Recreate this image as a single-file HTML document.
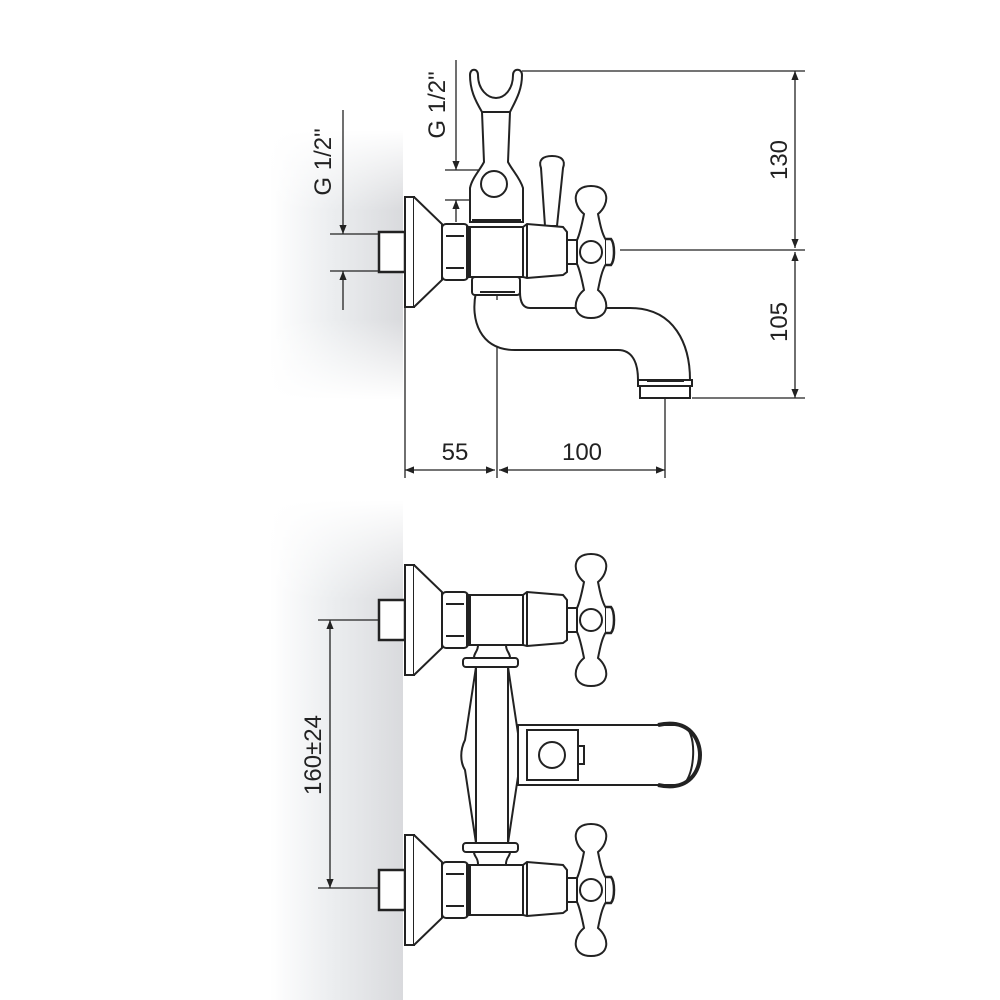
<!DOCTYPE html>
<html><head><meta charset="utf-8"><style>html,body{margin:0;padding:0;background:#fff}svg{display:block}</style></head>
<body>
<svg width="1000" height="1000" viewBox="0 0 1000 1000" xmlns="http://www.w3.org/2000/svg">
<defs>
<linearGradient id="gh" x1="0" x2="1" y1="0" y2="0">
<stop offset="0" stop-color="#fff" stop-opacity="1"/>
<stop offset="0.45" stop-color="#eceef0"/>
<stop offset="1" stop-color="#d9dadd"/>
</linearGradient>
<linearGradient id="gv" x1="0" x2="0" y1="0" y2="1">
<stop offset="0" stop-color="#fff" stop-opacity="1"/>
<stop offset="0.3" stop-color="#fff" stop-opacity="0"/>
<stop offset="0.7" stop-color="#fff" stop-opacity="0"/>
<stop offset="1" stop-color="#fff" stop-opacity="1"/>
</linearGradient>
<linearGradient id="gv2" x1="0" x2="0" y1="0" y2="1">
<stop offset="0" stop-color="#fff" stop-opacity="1"/>
<stop offset="0.2" stop-color="#fff" stop-opacity="0"/>
<stop offset="1" stop-color="#fff" stop-opacity="0"/>
</linearGradient>
<marker id="ar" viewBox="0 0 10 10" refX="10" refY="5" markerWidth="9" markerHeight="9" orient="auto-start-reverse" markerUnits="userSpaceOnUse"><path d="M0,1 L10,5 L0,9 z" fill="#222"/></marker>
<g id="side">
<rect x="379" y="-20" width="26" height="40" fill="#fff" stroke="#222" stroke-width="2.5"/>
<rect x="405" y="-55" width="9" height="110" fill="#fff" stroke="#222" stroke-width="2"/>
<path d="M414,-55 L442,-28 L442,28 L414,55" fill="#fff" stroke="#222" stroke-width="2"/>
<rect x="442" y="-28" width="26" height="56" rx="4" fill="#fff" stroke="#222" stroke-width="2"/>
<line x1="446" y1="-16" x2="464" y2="-16" stroke="#222" stroke-width="2"/>
<line x1="446" y1="16" x2="464" y2="16" stroke="#222" stroke-width="2"/>
<line x1="468" y1="-26" x2="468" y2="26" stroke="#222" stroke-width="4"/>
<rect x="470" y="-25" width="53" height="50" fill="#fff" stroke="#222" stroke-width="2"/>
<path d="M523,-25 L527,-28 L563,-25 L567,-20 L567,20 L563,23 L527,26 L523,25 z" fill="#fff" stroke="#222" stroke-width="2"/>
<line x1="527" y1="-27" x2="527" y2="25" stroke="#222" stroke-width="2"/>
<rect x="567" y="-12" width="10" height="24" fill="#fff" stroke="#222" stroke-width="2"/>
<!-- cross handle -->
<path d="M584,-38 C572,-48 572,-66 591,-66 C610,-66 610,-48 598,-38 C600,-28 602,-18 606,-12 L606,12 C602,18 600,28 598,38 C610,48 610,66 591,66 C572,66 572,48 584,38 C582,28 580,18 577,12 L577,-12 C580,-18 582,-28 584,-38 z" fill="#fff" stroke="#222" stroke-width="2"/>
<circle cx="591" cy="0" r="11" fill="#fff" stroke="#222" stroke-width="2"/>
<path d="M606,-13 L611,-13 C615,-8 615,8 611,13 L606,13" fill="#fff" stroke="#222" stroke-width="2.5"/>
</g>
</defs>

<rect x="270" y="130" width="133" height="270" fill="url(#gh)"/>
<rect x="270" y="130" width="133" height="270" fill="url(#gv)"/>
<rect x="270" y="500" width="133" height="500" fill="url(#gh)"/>
<rect x="270" y="500" width="133" height="500" fill="url(#gv2)"/>

<g fill="none" stroke="#222" stroke-width="1.3">
<line x1="522" y1="71" x2="805" y2="71"/>
<line x1="620" y1="250" x2="805" y2="250"/>
<line x1="692" y1="398" x2="805" y2="398"/>
<line x1="795" y1="71" x2="795" y2="248" marker-start="url(#ar)" marker-end="url(#ar)"/>
<line x1="795" y1="252" x2="795" y2="398" marker-start="url(#ar)" marker-end="url(#ar)"/>
<line x1="405" y1="305" x2="405" y2="478"/>
<line x1="497" y1="300" x2="497" y2="478"/>
<line x1="665" y1="398" x2="665" y2="478"/>
<line x1="405" y1="470" x2="495" y2="470" marker-start="url(#ar)" marker-end="url(#ar)"/>
<line x1="499" y1="470" x2="665" y2="470" marker-start="url(#ar)" marker-end="url(#ar)"/>
<line x1="343" y1="110" x2="343" y2="234" marker-end="url(#ar)"/>
<line x1="343" y1="310" x2="343" y2="271" marker-end="url(#ar)"/>
<line x1="330" y1="234" x2="380" y2="234"/>
<line x1="330" y1="271" x2="380" y2="271"/>
<line x1="456" y1="60" x2="456" y2="170" marker-end="url(#ar)"/>
<line x1="456" y1="222" x2="456" y2="200" marker-end="url(#ar)"/>
<line x1="445" y1="170" x2="490" y2="170"/>
<line x1="445" y1="200" x2="490" y2="200"/>
<line x1="318" y1="620" x2="378" y2="620"/>
<line x1="318" y1="888" x2="378" y2="888"/>
<line x1="330" y1="620" x2="330" y2="888" marker-start="url(#ar)" marker-end="url(#ar)"/>
</g>

<path d="M476,292 C470,320 480,350 515,350 L618,350 C632,350 638,362 638,380 L690,380 C690,345 675,308 630,308 L530,308 C522,308 520,300 520,292 z" fill="#fff" stroke="#222" stroke-width="2"/>
<rect x="472" y="277" width="48" height="18" rx="3" fill="#fff" stroke="#222" stroke-width="2"/>
<line x1="480" y1="292" x2="515" y2="292" stroke="#222" stroke-width="2"/>
<line x1="497" y1="296" x2="497" y2="300" stroke="#222" stroke-width="1.3"/>
<rect x="638" y="380" width="54" height="6" fill="#fff" stroke="#222" stroke-width="2"/>
<rect x="640" y="386" width="50" height="12" fill="#fff" stroke="#222" stroke-width="2"/>
<line x1="647" y1="381" x2="684" y2="381" stroke="#222" stroke-width="2"/>
<path d="M470,222 L470,188 C472,178 480,170 484,162 L482,112 L510,112 L508,162 C512,170 520,178 523,188 L523,222 z" fill="#fff" stroke="#222" stroke-width="2"/>
<path d="M482,112 C475,100 470,90 470,75 C470,68 478,68 478,75 C478,90 488,98 496,98 C504,98 513,90 513,75 C513,68 522,68 522,75 C522,90 516,100 510,112" fill="#fff" stroke="#222" stroke-width="2"/>
<line x1="482" y1="112" x2="510" y2="112" stroke="#222" stroke-width="2"/>
<circle cx="494" cy="184" r="13" fill="#fff" stroke="#222" stroke-width="2"/>
<line x1="472" y1="220" x2="521" y2="220" stroke="#222" stroke-width="2"/>
<path d="M545,226 L541,168 C538,160 543,156 552,156 C561,156 566,160 563,168 L557,226 z" fill="#fff" stroke="#222" stroke-width="2"/>
<use href="#side" transform="translate(0,252)"/>

<path d="M476,667 L465,740 C460,750 460,762 465,770 L476,843 L508,843 L519,770 C524,762 524,750 519,740 L508,667 z" fill="#fff" stroke="#222" stroke-width="2"/>
<line x1="476" y1="667" x2="476" y2="843" stroke="#222" stroke-width="2"/>
<line x1="508" y1="667" x2="508" y2="843" stroke="#222" stroke-width="2"/>
<path d="M518,725 L680,725 C700,725 695,785 680,785 L518,785 z" fill="#fff" stroke="#222" stroke-width="2"/>
<path d="M658,725 C690,718 700,740 700,755 C700,770 690,792 658,785" fill="none" stroke="#222" stroke-width="4"/>
<rect x="527" y="730" width="51" height="50" fill="#fff" stroke="#222" stroke-width="2"/>
<circle cx="552" cy="755" r="13" fill="#fff" stroke="#222" stroke-width="2"/>
<rect x="578" y="746" width="6" height="18" fill="#fff" stroke="#222" stroke-width="2"/>
<rect x="463" y="658" width="55" height="9" rx="3" fill="#fff" stroke="#222" stroke-width="2"/>
<rect x="463" y="843" width="55" height="9" rx="3" fill="#fff" stroke="#222" stroke-width="2"/>
<path d="M478,645 C478,652 474,652 474,658" fill="none" stroke="#222" stroke-width="2"/>
<path d="M506,645 C506,652 510,652 510,658" fill="none" stroke="#222" stroke-width="2"/>
<path d="M478,864 C478,857 474,857 474,852" fill="none" stroke="#222" stroke-width="2"/>
<path d="M506,864 C506,857 510,857 510,852" fill="none" stroke="#222" stroke-width="2"/>
<use href="#side" transform="translate(0,620)"/>
<use href="#side" transform="translate(0,890)"/>

<g font-family="Liberation Sans, sans-serif" font-size="24" fill="#222" text-anchor="middle">
<text x="455" y="460">55</text>
<text x="582" y="460">100</text>
<text transform="translate(787,160) rotate(-90)">130</text>
<text transform="translate(787,322) rotate(-90)">105</text>
<text transform="translate(331,162) rotate(-90)">G 1/2"</text>
<text transform="translate(445,105) rotate(-90)">G 1/2"</text>
<text transform="translate(321,755) rotate(-90)">160±24</text>
</g>
</svg>
</body></html>
